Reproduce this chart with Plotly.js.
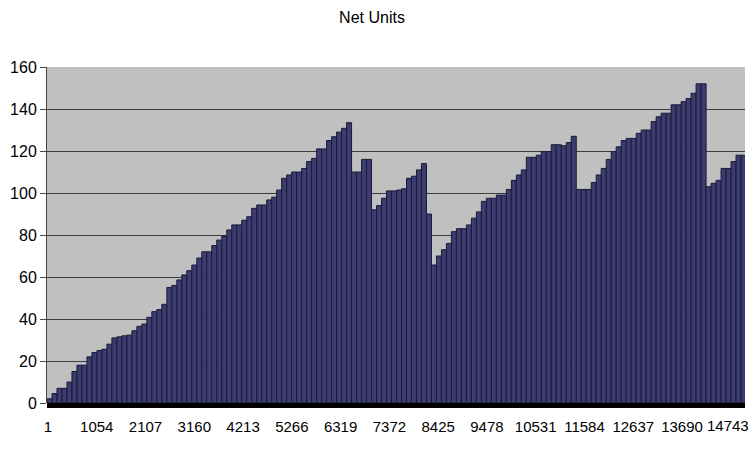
<!DOCTYPE html>
<html>
<head>
<meta charset="utf-8">
<script src="https://cdn.plot.ly/plotly-3.0.1.min.js"></script>
<style>html,body{margin:0;padding:0;background:#fff;}#chart{width:750px;height:450px;}</style>
</head>
<body>
<div id="chart"></div>
<script>
// Net units, one value per group of categories
const netUnits = [
  2, 4.5, 7, 7, 10, 15, 18, 18, 22, 24,
  25, 25.6, 28, 31, 31.5, 32, 32.3, 34.4, 36.5, 37.6,
  40.8, 43.5, 44.5, 47, 55, 56, 58.6, 61, 63, 65.7,
  69, 72, 72, 75, 77.6, 79.5, 82.4, 84.8, 84.8, 87,
  88.7, 92.7, 94.3, 94.3, 96.7, 98, 101.4, 107, 108.6, 110,
  110, 111.7, 115, 116.5, 121, 121, 125, 126.8, 129, 130.8,
  133.5, 110, 110, 116, 116, 92, 94, 97.5, 101, 101,
  101.4, 102, 107, 108, 111, 114, 90, 65.7, 70, 73,
  76, 81.6, 83, 83, 84.8, 88, 91, 96, 97.5, 97.5,
  99, 99, 101.7, 106, 108.6, 111, 117, 117, 118, 119.7,
  119.7, 123, 123, 122.5, 124, 127, 101.7, 101.7, 101.7, 105,
  108.6, 111.7, 116, 119.7, 122, 125, 126, 126, 128.4, 130,
  130, 134, 136.3, 138, 138, 142, 142, 143.5, 145, 147.5,
  152, 152, 103, 104.6, 106, 111.7, 111.7, 115, 118, 118
];
const groupSize = 107.8;      // categories per drawn bar
const firstCategory = -20;    // left edge of the category axis
const categoryTicks = [1, 1054, 2107, 3160, 4213, 5266, 6319, 7372, 8425, 9478, 10531, 11584, 12637, 13690, 14743];
const yTicks = [0, 20, 40, 60, 80, 100, 120, 140, 160];

const xCenters = netUnits.map((_, i) => firstCategory + groupSize * (i + 0.5));
const lastTick = categoryTicks[categoryTicks.length - 1];
// last label is placed as an annotation so it stays inside the picture
const tickTexts = categoryTicks.map(v => v === lastTick ? '' : String(v));

const font = {family: 'Liberation Sans, Arial, sans-serif', size: 16, color: '#000'};
const xFont = {family: font.family, size: 15, color: '#000'};

Plotly.newPlot('chart', [{
  type: 'bar',
  x: xCenters,
  y: netUnits,
  width: groupSize,
  marker: {color: '#3c3c70', line: {color: '#1a1a38', width: 1}},
  hoverinfo: 'skip'
}], {
  width: 750, height: 450,
  margin: {l: 47, r: 5, t: 67, b: 47, pad: 0},
  paper_bgcolor: '#ffffff',
  plot_bgcolor: '#c0c0c0',
  font: font,
  showlegend: false,
  title: {text: 'Net Units', font: {family: font.family, size: 16, color: '#000'},
          x: 0.496, xanchor: 'center', y: 1 - 17/450, yref: 'container', yanchor: 'middle'},
  xaxis: {
    range: [firstCategory, firstCategory + groupSize * netUnits.length - 22],
    tickvals: categoryTicks, ticktext: tickTexts,
    ticks: 'outside', ticklen: 10, tickcolor: 'rgba(0,0,0,0)',
    showgrid: false, zeroline: false, showline: false,
    tickfont: xFont, fixedrange: true
  },
  yaxis: {
    range: [0, 160], tickvals: yTicks,
    ticks: 'outside', ticklen: 6, tickcolor: '#444', tickwidth: 1,
    showgrid: true, gridcolor: '#3c3c3c', gridwidth: 1,
    showline: true, linecolor: '#444', linewidth: 1,
    zeroline: false, tickfont: font, fixedrange: true
  },
  annotations: [{
    text: String(lastTick), xref: 'paper', yref: 'paper',
    x: 1, y: 0, xanchor: 'right', yanchor: 'top',
    xshift: 5, yshift: -13, showarrow: false, font: xFont,
    borderpad: 0
  }],
  shapes: [{
    type: 'rect', xref: 'paper', yref: 'paper',
    x0: 0, x1: 1, y0: -5/336, y1: 0,
    fillcolor: '#000', line: {width: 0}, layer: 'above'
  }]
}, {staticPlot: true});
</script>
</body>
</html>
